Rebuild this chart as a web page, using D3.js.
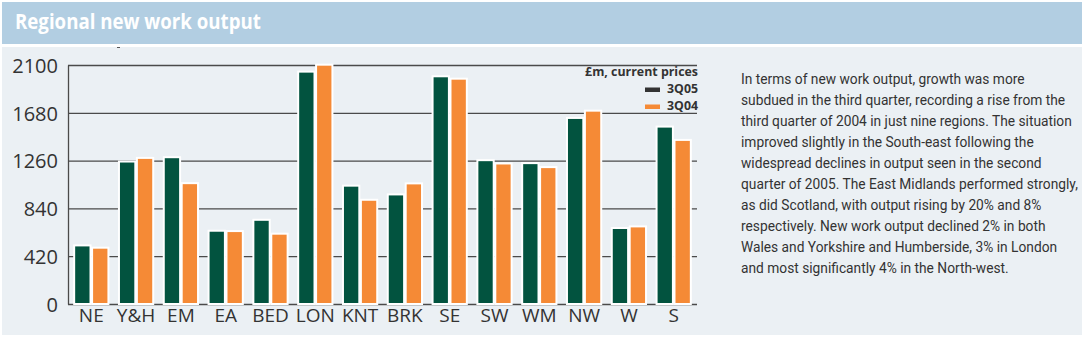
<!DOCTYPE html>
<html>
<head>
<meta charset="utf-8">
<script src="https://cdn.jsdelivr.net/npm/d3@7"></script>
<style>
  body { margin: 0; background: #fff; }
</style>
</head>
<body>
<script>
// data (£m, current prices)
var regions = ["NE", "Y&H", "EM", "EA", "BED", "LON", "KNT", "BRK", "SE", "SW", "WM", "NW", "W", "S"];
var q305 = [506, 1243, 1281, 635, 731, 2033, 1031, 954, 1992, 1255, 1229, 1626, 659, 1550];
var q304 = [486, 1275, 1053, 632, 609, 2094, 907, 1051, 1971, 1226, 1194, 1690, 673, 1433];
var seriesNames = ["3Q05", "3Q04"];
var yTicks = [0, 420, 840, 1260, 1680, 2100];

var title = "Regional new work output";
var unitLabel = "£m, current prices";
var textLines = [
  "In terms of new work output, growth was more",
  "subdued in the third quarter, recording a rise from the",
  "third quarter of 2004 in just nine regions. The situation",
  "improved slightly in the South-east following the",
  "widespread declines in output seen in the second",
  "quarter of 2005. The East Midlands performed strongly,",
  "as did Scotland, with output rising by 20% and 8%",
  "respectively. New work output declined 2% in both",
  "Wales and Yorkshire and Humberside, 3% in London",
  "and most significantly 4% in the North-west."
];

var W = 1084, H = 338;
var green = "#02533f", orange = "#f58a36", ink = "#333";

var svg = d3.select("body").append("svg")
  .attr("width", W)
  .attr("height", H);

// squeeze a text to the width it has in the reference
function fitText(sel, width) {
  var len = sel.node().getComputedTextLength();
  var x = +sel.attr("x") || 0;
  sel.attr("transform", "translate(" + x + ",0) scale(" + (width / len) + ",1) translate(" + (-x) + ",0)");
}

// title bar + panel
svg.append("rect").attr("x", 2).attr("y", 2).attr("width", 1080).attr("height", 42).attr("fill", "#b2cee2");
svg.append("rect").attr("x", 2).attr("y", 47).attr("width", 1080).attr("height", 288).attr("fill", "#ebf0f4");
var t = svg.append("text")
  .attr("x", 15).attr("y", 29)
  .attr("fill", "#fff")
  .style("font", "bold 21px 'Open Sans', sans-serif")
  .text(title);
fitText(t, 246);

// stray tick mark at top of panel
svg.append("rect").attr("x", 117).attr("y", 47).attr("width", 3).attr("height", 1).attr("fill", "#555");

var x = d3.scaleBand().domain(regions).range([68, 697]).paddingInner(0.28).paddingOuter(0.16);
var x1 = d3.scaleBand().domain(seriesNames).range([0, x.bandwidth()]).paddingInner(0.2);
var y = d3.scaleLinear().domain([0, 2100]).range([304, 65]);
var color = d3.scaleOrdinal().domain(seriesNames).range([green, orange]);

// y axis with gridlines
var yAxis = svg.append("g")
  .attr("transform", "translate(68,0)")
  .call(d3.axisLeft(y).tickValues(yTicks).tickSize(-629).tickSizeOuter(0).tickPadding(10).tickFormat(d3.format("d")));
yAxis.selectAll(".tick line").attr("stroke", "#4a4a4a").attr("stroke-width", 1.3);
yAxis.select(".domain").attr("stroke", "#4a4a4a").attr("stroke-width", 1.3);
yAxis.selectAll(".tick text")
  .attr("fill", ink)
  .attr("dy", "0.36em")
  .style("font", "20px 'Open Sans', sans-serif");

// bars
var rows = regions.map(function (r, i) {
  return { region: r, values: [{ key: "3Q05", v: q305[i] }, { key: "3Q04", v: q304[i] }] };
});
svg.append("g").selectAll("g")
  .data(rows)
  .enter().append("g")
  .attr("transform", function (d) { return "translate(" + x(d.region) + ",0)"; })
  .selectAll("rect")
  .data(function (d) { return d.values; })
  .enter().append("rect")
  .attr("x", function (d) { return x1(d.key) - 1; })
  .attr("y", function (d) { return y(d.v) - 1; })
  .attr("width", x1.bandwidth() + 2)
  .attr("height", function (d) { return y(0) - y(d.v) + 1; })
  .attr("fill", function (d) { return color(d.key); })
  .attr("stroke", "#fff")
  .attr("stroke-width", 2);

// x labels
var xAxis = svg.append("g")
  .attr("transform", "translate(0,304)")
  .call(d3.axisBottom(x).tickSize(0).tickPadding(4));
xAxis.select(".domain").remove();
xAxis.selectAll(".tick text")
  .attr("fill", ink)
  .style("font", "19px 'Open Sans', sans-serif");

// legend
var u = svg.append("text")
  .attr("x", 698).attr("y", 76)
  .attr("text-anchor", "end")
  .attr("fill", ink)
  .style("font", "bold 12.5px 'Open Sans', sans-serif")
  .text(unitLabel);
fitText(u, 113);
var leg = svg.append("g").selectAll("g")
  .data(seriesNames)
  .enter().append("g")
  .attr("transform", function (d, i) { return "translate(0," + (93 + i * 17) + ")"; });
leg.append("rect")
  .attr("x", 645).attr("y", -5.5)
  .attr("width", 15).attr("height", 4.5)
  .attr("fill", function (d, i) { return i === 0 ? "#333" : orange; });
leg.append("text")
  .attr("x", 698)
  .attr("text-anchor", "end")
  .attr("fill", ink)
  .style("font", "bold 13px 'Open Sans', sans-serif")
  .text(function (d) { return d; })
  .each(function () { fitText(d3.select(this), 31); });

// commentary
var para = svg.append("g");
var lines = para.selectAll("text")
  .data(textLines)
  .enter().append("text")
  .attr("x", 741)
  .attr("y", function (d, i) { return 84 + i * 21; })
  .attr("fill", ink)
  .style("font", "14px Roboto, sans-serif")
  .text(function (d) { return d; });
var sx = 331 / lines.nodes()[2].getComputedTextLength();
lines.attr("transform", "translate(741,0) scale(" + sx + ",1) translate(-741,0)");
</script>
</body>
</html>
